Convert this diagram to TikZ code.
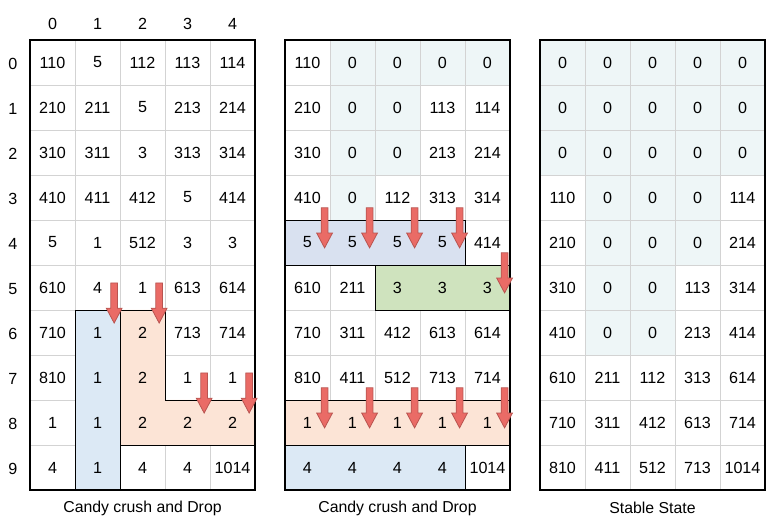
\documentclass[tikz,border=0pt]{standalone}
\usepackage{fontspec}
\setmainfont{Liberation Sans}
\definecolor{gridgray}{HTML}{D3D3D3}
\definecolor{zeroblue}{HTML}{EEF6F7}
\definecolor{zoneblue}{HTML}{DCE9F5}
\definecolor{zonelav}{HTML}{D9E1F0}
\definecolor{zonepeach}{HTML}{FCE4D6}
\definecolor{zonegreen}{HTML}{CFE3BE}
\definecolor{arrowred}{HTML}{EA6B66}
\definecolor{arrowedge}{HTML}{B85450}
\tikzset{
  cell/.style={font=\fontsize{10.2}{12}\selectfont},
  caption/.style={font=\fontsize{10}{12}\selectfont},
  gridline/.style={draw=gridgray,line width=0.6pt},
  zerocell/.style={fill=zeroblue},
  zone/.style={draw=black,line width=0.6pt},
  droparrow/.style={fill=arrowred,draw=arrowedge,line width=0.5pt,line join=miter}
}
% values of one 5x10 board, one row per group
\newcommand{\boardvalues}[2]{%
  \foreach \row [count=\r from 0] in {#2}
    \foreach \v [count=\c from 0] in \row
      \node[cell] (#1-\r-\c) at (\c+0.5,\r+0.5) {\v};}
% falling block arrow, tip at (#1,#2)
\newcommand{\droparrowat}[2]{%
  \draw[droparrow] (#1-0.075,#2-0.89) -- (#1+0.075,#2-0.89) -- (#1+0.075,#2-0.33)
    -- (#1+0.175,#2-0.33) -- (#1,#2) -- (#1-0.175,#2-0.33) -- (#1-0.075,#2-0.33) -- cycle;}
\begin{document}
\begin{tikzpicture}[x=1cm,y=-1cm]
    \useasboundingbox (0,0) rectangle (17.267,11.822);
    % first board: crushing
    \begin{scope}[shift={(0.667,0.889)}]
    \draw[gridline] (0,0) grid (5,10);
    \draw[zone,fill=zoneblue] (1,6) rectangle (2,10);
    \draw[zone,fill=zonepeach] (2,6) -- (3,6) -- (3,8) -- (5,8) -- (5,9) -- (2,9) -- cycle;
    \draw[line width=1.3pt] (0,0) rectangle (5,10);
    \foreach \c in {0,...,4} {\node[cell] (col\c) at (\c+0.5,-0.36) {\c};}
    \foreach \r in {0,...,9} {\node[cell] (row\r) at (-0.38,\r+0.53) {\r};}
    \boardvalues{first}{{110,5,112,113,114},{210,211,5,213,214},{310,311,3,313,314},
      {410,411,412,5,414},{5,1,512,3,3},{610,4,1,613,614},{710,1,2,713,714},
      {810,1,2,1,1},{1,1,2,2,2},{4,1,4,4,1014}}
    \node[caption] (capfirst) at (2.5,10.4) {Candy crush and Drop};
    \droparrowat{1.87}{6.29}
    \droparrowat{2.87}{6.29}
    \droparrowat{3.87}{8.29}
    \droparrowat{4.87}{8.29}
    \end{scope}
    % second board: after first drop
    \begin{scope}[shift={(6.333,0.889)}]
    \fill[zerocell] (1,0) rectangle (5,1);
    \fill[zerocell] (1,1) rectangle (3,3);
    \fill[zerocell] (1,3) rectangle (2,4);
    \draw[gridline] (0,0) grid (5,10);
    \draw[zone,fill=zonelav] (0,4) rectangle (4,5);
    \draw[zone,fill=zonegreen] (2,5) rectangle (5,6);
    \draw[zone,fill=zonepeach] (0,8) rectangle (5,9);
    \draw[zone,fill=zoneblue] (0,9) rectangle (4,10);
    \draw[line width=1.3pt] (0,0) rectangle (5,10);
    \boardvalues{second}{{110,0,0,0,0},{210,0,0,113,114},{310,0,0,213,214},
      {410,0,112,313,314},{5,5,5,5,414},{610,211,3,3,3},{710,311,412,613,614},
      {810,411,512,713,714},{1,1,1,1,1},{4,4,4,4,1014}}
    \node[caption] (capsecond) at (2.5,10.4) {Candy crush and Drop};
    \foreach \c in {0,...,3} {\droparrowat{\c+0.88}{4.62}}
    \droparrowat{4.88}{5.62}
    \foreach \c in {0,...,4} {\droparrowat{\c+0.88}{8.62}}
    \end{scope}
    % third board: stable
    \begin{scope}[shift={(12,0.889)}]
    \fill[zerocell] (0,0) rectangle (5,3);
    \fill[zerocell] (1,3) rectangle (4,5);
    \fill[zerocell] (1,5) rectangle (3,7);
    \draw[gridline] (0,0) grid (5,10);
    \draw[line width=1.3pt] (0,0) rectangle (5,10);
    \boardvalues{third}{{0,0,0,0,0},{0,0,0,0,0},{0,0,0,0,0},{110,0,0,0,114},
      {210,0,0,0,214},{310,0,0,113,314},{410,0,0,213,414},{610,211,112,313,614},
      {710,311,412,613,714},{810,411,512,713,1014}}
    \node[caption] (capthird) at (2.5,10.4) {Stable State};
    \end{scope}
\end{tikzpicture}
\end{document}
